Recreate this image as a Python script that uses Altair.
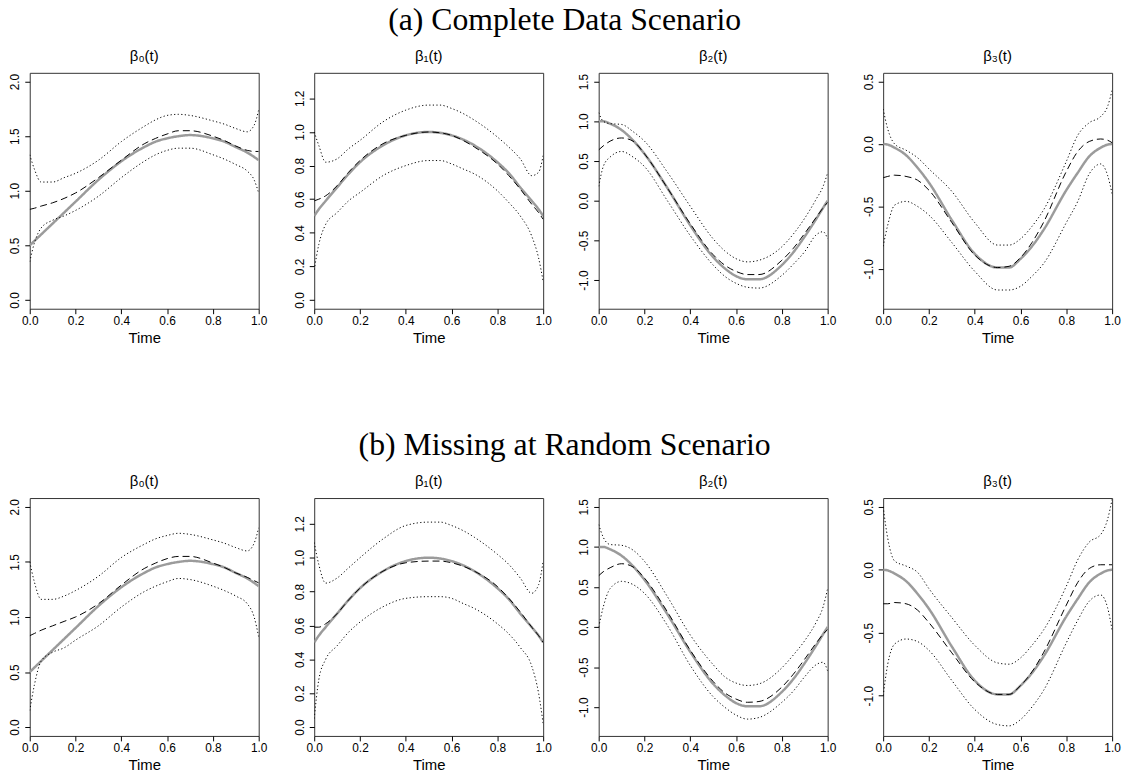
import altair as alt
import pandas as pd

T = [0.0, 0.02, 0.05, 0.1, 0.15, 0.2, 0.3, 0.4, 0.5, 0.55, 0.6, 0.65, 0.7, 0.8, 0.85, 0.9, 0.95, 0.98, 1.0]

# true coefficient functions (grey solid)
TRUE_B0 = [0.50, 0.54, 0.60, 0.70, 0.80, 0.90, 1.10, 1.27, 1.40, 1.45, 1.48, 1.50, 1.51, 1.48, 1.45, 1.40, 1.35, 1.31, 1.28]
TRUE_B1 = [0.50, 0.54, 0.59, 0.67, 0.75, 0.82, 0.92, 0.98, 1.00, 0.995, 0.98, 0.955, 0.92, 0.82, 0.755, 0.67, 0.59, 0.54, 0.50]
TRUE_B2 = [1.00, 1.00, 0.97, 0.89, 0.76, 0.59, 0.16, -0.31, -0.71, -0.85, -0.95, -0.99, -0.99, -0.81, -0.65, -0.45, -0.23, -0.09, 0.0]
TRUE_B3 = [0.0, -0.005, -0.03, -0.09, -0.19, -0.31, -0.61, -0.88, -0.99, -0.99, -0.92, -0.82, -0.69, -0.37, -0.23, -0.10, -0.03, -0.005, 0.0]

# (a) complete data: estimate (dashed), upper / lower bands (dotted)
A_EST_B0 = [0.83, 0.84, 0.86, 0.89, 0.93, 0.98, 1.12, 1.28, 1.43, 1.48, 1.52, 1.55, 1.55, 1.50, 1.46, 1.41, 1.37, 1.36, 1.36]
A_UP_B0 = [1.33, 1.20, 1.08, 1.08, 1.12, 1.16, 1.28, 1.45, 1.59, 1.65, 1.69, 1.70, 1.69, 1.64, 1.61, 1.57, 1.54, 1.60, 1.74]
A_LO_B0 = [0.35, 0.52, 0.66, 0.73, 0.77, 0.82, 0.95, 1.12, 1.27, 1.33, 1.37, 1.39, 1.39, 1.33, 1.29, 1.24, 1.18, 1.10, 0.98]

A_EST_B1 = [0.59, 0.60, 0.62, 0.68, 0.76, 0.83, 0.93, 0.98, 1.00, 0.995, 0.98, 0.95, 0.91, 0.81, 0.74, 0.66, 0.57, 0.52, 0.48]
A_UP_B1 = [1.00, 0.92, 0.82, 0.84, 0.90, 0.95, 1.06, 1.13, 1.16, 1.16, 1.14, 1.11, 1.07, 0.97, 0.91, 0.84, 0.74, 0.76, 0.86]
A_LO_B1 = [0.18, 0.33, 0.45, 0.52, 0.59, 0.64, 0.74, 0.80, 0.83, 0.83, 0.81, 0.78, 0.75, 0.65, 0.58, 0.50, 0.38, 0.25, 0.11]

A_EST_B2 = [0.64, 0.69, 0.75, 0.79, 0.75, 0.59, 0.16, -0.29, -0.68, -0.81, -0.89, -0.93, -0.93, -0.75, -0.60, -0.41, -0.21, -0.09, -0.02]
A_UP_B2 = [1.11, 1.00, 0.97, 0.96, 0.87, 0.75, 0.36, -0.07, -0.48, -0.63, -0.73, -0.77, -0.75, -0.58, -0.42, -0.22, 0.02, 0.18, 0.35]
A_LO_B2 = [0.18, 0.43, 0.55, 0.62, 0.55, 0.43, 0.0, -0.44, -0.81, -0.95, -1.04, -1.09, -1.10, -0.94, -0.80, -0.64, -0.43, -0.39, -0.48]

A_EST_B3 = [-0.27, -0.26, -0.25, -0.26, -0.29, -0.37, -0.63, -0.89, -0.99, -0.98, -0.91, -0.79, -0.63, -0.22, -0.06, 0.02, 0.04, 0.03, 0.01]
A_UP_B3 = [0.28, 0.12, 0.0, -0.05, -0.11, -0.20, -0.38, -0.63, -0.81, -0.81, -0.76, -0.66, -0.53, -0.14, 0.07, 0.17, 0.22, 0.30, 0.43]
A_LO_B3 = [-0.82, -0.65, -0.49, -0.46, -0.50, -0.57, -0.79, -1.02, -1.17, -1.17, -1.14, -1.06, -0.96, -0.63, -0.46, -0.24, -0.16, -0.25, -0.40]

# (b) missing at random
B_EST_B0 = [0.83, 0.85, 0.88, 0.92, 0.96, 1.00, 1.12, 1.29, 1.44, 1.49, 1.53, 1.55, 1.55, 1.49, 1.45, 1.40, 1.36, 1.33, 1.31]
B_UP_B0 = [1.50, 1.32, 1.16, 1.16, 1.19, 1.24, 1.37, 1.54, 1.66, 1.71, 1.74, 1.76, 1.75, 1.70, 1.67, 1.63, 1.60, 1.67, 1.81]
B_LO_B0 = [0.15, 0.38, 0.60, 0.68, 0.72, 0.79, 0.92, 1.09, 1.23, 1.28, 1.32, 1.35, 1.34, 1.28, 1.24, 1.19, 1.12, 1.00, 0.82]

B_EST_B1 = [0.59, 0.59, 0.61, 0.67, 0.75, 0.82, 0.92, 0.97, 0.98, 0.98, 0.97, 0.95, 0.92, 0.83, 0.76, 0.68, 0.59, 0.54, 0.50]
B_UP_B1 = [1.09, 0.96, 0.85, 0.88, 0.94, 1.00, 1.11, 1.19, 1.21, 1.21, 1.19, 1.16, 1.12, 1.02, 0.96, 0.88, 0.79, 0.84, 0.98]
B_LO_B1 = [0.05, 0.28, 0.40, 0.48, 0.56, 0.62, 0.71, 0.76, 0.77, 0.77, 0.76, 0.73, 0.70, 0.61, 0.55, 0.47, 0.36, 0.20, 0.02]

B_EST_B2 = [0.64, 0.69, 0.74, 0.79, 0.75, 0.61, 0.19, -0.29, -0.68, -0.82, -0.90, -0.94, -0.93, -0.75, -0.59, -0.40, -0.20, -0.09, -0.03]
B_UP_B2 = [1.28, 1.12, 1.03, 1.02, 0.96, 0.82, 0.38, -0.10, -0.47, -0.62, -0.70, -0.73, -0.71, -0.51, -0.35, -0.17, 0.06, 0.25, 0.48]
B_LO_B2 = [0.0, 0.25, 0.48, 0.57, 0.53, 0.42, 0.02, -0.48, -0.87, -1.00, -1.10, -1.15, -1.13, -0.94, -0.80, -0.62, -0.47, -0.44, -0.55]

B_EST_B3 = [-0.27, -0.27, -0.26, -0.27, -0.32, -0.42, -0.66, -0.89, -0.99, -0.99, -0.92, -0.81, -0.66, -0.28, -0.10, 0.01, 0.04, 0.04, 0.04]
B_UP_B3 = [0.50, 0.25, 0.07, 0.03, -0.02, -0.15, -0.38, -0.60, -0.74, -0.75, -0.70, -0.60, -0.48, -0.13, 0.08, 0.22, 0.28, 0.40, 0.56]
B_LO_B3 = [-1.00, -0.75, -0.59, -0.55, -0.57, -0.64, -0.88, -1.11, -1.23, -1.24, -1.19, -1.09, -0.96, -0.58, -0.40, -0.25, -0.20, -0.30, -0.48]

PANEL_TITLES = ["β₀(t)", "β₁(t)", "β₂(t)", "β₃(t)"]
ROW_TITLES = ["(a) Complete Data Scenario", "(b) Missing at Random Scenario"]
X_TICKS = [0.0, 0.2, 0.4, 0.6, 0.8, 1.0]
Y_DOMAINS = [[-0.08, 2.08], [-0.052, 1.352], [-1.36, 1.61], [-1.32, 0.57]]
Y_TICKS = [[0.0, 0.5, 1.0, 1.5, 2.0],
           [0.0, 0.2, 0.4, 0.6, 0.8, 1.0, 1.2],
           [-1.0, -0.5, 0.0, 0.5, 1.0, 1.5],
           [-1.0, -0.5, 0.0, 0.5]]

SERIES = ["truth", "est", "up", "lo"]
SERIES_COLOR = ["#9b9b9b", "#000000", "#000000", "#000000"]
SERIES_WIDTH = [2.5, 1.0, 1.0, 1.0]
SERIES_DASH = [[1, 0], [7, 4], [1.2, 2.4], [1.2, 2.4]]

TRUES = [TRUE_B0, TRUE_B1, TRUE_B2, TRUE_B3]
ROWS = [
    [(A_EST_B0, A_UP_B0, A_LO_B0), (A_EST_B1, A_UP_B1, A_LO_B1),
     (A_EST_B2, A_UP_B2, A_LO_B2), (A_EST_B3, A_UP_B3, A_LO_B3)],
    [(B_EST_B0, B_UP_B0, B_LO_B0), (B_EST_B1, B_UP_B1, B_LO_B1),
     (B_EST_B2, B_UP_B2, B_LO_B2), (B_EST_B3, B_UP_B3, B_LO_B3)],
]

SANS = "Liberation Sans"
SERIF = "Liberation Serif"
LABEL_EXPR = "replace(format(datum.value, '.1f'), '\u2212', '-')"


def panel(k, est, up, lo, height):
    recs = []
    for name, vals in zip(SERIES, [TRUES[k], est, up, lo]):
        for t, v in zip(T, vals):
            recs.append({"t": t, "value": v, "series": name})
    df = pd.DataFrame(recs)
    return alt.Chart(df).mark_line(interpolate="monotone", clip=True).encode(
        x=alt.X("t:Q", scale=alt.Scale(domain=[0, 1], nice=False, zero=False),
                axis=alt.Axis(values=X_TICKS, labelExpr=LABEL_EXPR, title="Time",
                              labelOverlap=False, labelPadding=2, titlePadding=4)),
        y=alt.Y("value:Q", scale=alt.Scale(domain=Y_DOMAINS[k], nice=False, zero=False),
                axis=alt.Axis(values=Y_TICKS[k], labelExpr=LABEL_EXPR, title=None,
                              labelAngle=270, labelAlign="center", labelBaseline="bottom",
                              labelOverlap=False, labelBound=False, labelPadding=3)),
        color=alt.Color("series:N", scale=alt.Scale(type="ordinal", domain=SERIES, range=SERIES_COLOR), legend=None),
        strokeWidth=alt.StrokeWidth("series:N", scale=alt.Scale(type="ordinal", domain=SERIES, range=SERIES_WIDTH), legend=None),
        strokeDash=alt.StrokeDash("series:N", scale=alt.Scale(type="ordinal", domain=SERIES, range=SERIES_DASH), legend=None),
        detail="series:N",
        order=alt.Order("t:Q"),
    ).properties(
        width=231, height=height,
        title=alt.TitleParams(PANEL_TITLES[k], font=SANS, fontSize=15, fontWeight="normal",
                              color="#000", anchor="middle", frame="group", offset=9),
    )


rows = []
for r, heights in enumerate([238, 240]):
    panels = [panel(k, *ROWS[r][k], heights) for k in range(4)]
    row = alt.hconcat(*panels, spacing=25).properties(
        title=alt.TitleParams(ROW_TITLES[r], font=SERIF, fontSize=32, fontWeight="normal",
                              color="#000", anchor="middle", offset=12)
    )
    rows.append(row)

chart = alt.vconcat(*rows, spacing=83).properties(
    padding={"left": 8, "top": 0, "right": 5, "bottom": 5},
    background="white",
).configure_view(
    stroke="#333333", strokeWidth=1
).configure_axis(
    domain=False, grid=False, tickColor="#000", tickSize=5, tickWidth=1,
    labelFont=SANS, labelFontSize=12, labelColor="#000", labelOverlap=False, labelFlush=False,
    titleFont=SANS, titleFontSize=15, titleFontWeight="normal", titleColor="#000",
)

chart.save("out.html", embed_options={"renderer": "svg", "actions": False})
